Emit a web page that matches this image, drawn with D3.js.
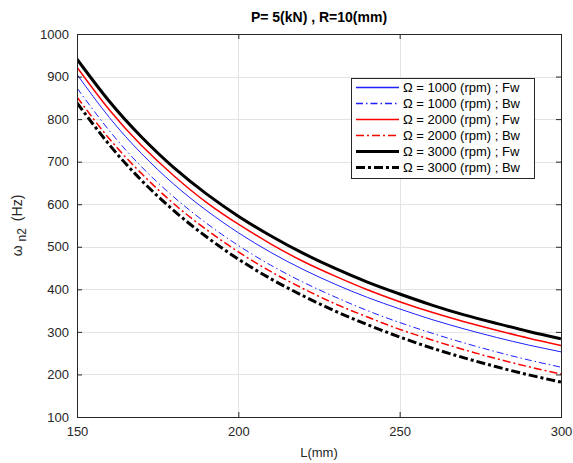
<!DOCTYPE html>
<html>
<head>
<meta charset="utf-8">
<script src="https://cdn.jsdelivr.net/npm/d3@7"></script>
<style>
  html, body { margin: 0; padding: 0; background: #fff; }
  svg { display: block; font-family: "Liberation Sans", Arial, sans-serif; }
</style>
</head>
<body>
<svg id="chart" width="573" height="463"></svg>
<script>
// ---- data ----
const L = [150, 160, 170, 180, 190, 200, 210, 220, 230, 240, 250, 260, 270, 280, 290, 300];
const w1000Fw = [905, 804, 719, 647, 586, 533, 487, 447, 412, 381, 354, 329, 307, 287, 269, 253];
const w1000Bw = [873, 773, 688, 617, 556, 503, 457, 417, 382, 350, 322, 297, 274, 253, 234, 217];
const w2000Fw = [922, 822, 738, 667, 605, 553, 507, 466, 431, 399, 371, 346, 324, 304, 285, 268];
const w2000Bw = [852, 754, 672, 601, 541, 488, 442, 402, 366, 335, 306, 281, 258, 237, 218, 201];
const w3000Fw = [941, 842, 758, 686, 625, 572, 526, 485, 449, 417, 389, 363, 340, 320, 301, 284];
const w3000Bw = [838, 740, 656, 585, 524, 471, 425, 385, 349, 317, 288, 262, 239, 218, 199, 182];
const seriesNames = ["Ω = 1000 (rpm) ; Fw", "Ω = 1000 (rpm) ; Bw", "Ω = 2000 (rpm) ; Fw",
                     "Ω = 2000 (rpm) ; Bw", "Ω = 3000 (rpm) ; Fw", "Ω = 3000 (rpm) ; Bw"];
const xTicks = [150, 200, 250, 300];
const yTicks = [100, 200, 300, 400, 500, 600, 700, 800, 900, 1000];
const titleText = "P= 5(kN) , R=10(mm)";
const xLabel = "L(mm)";

// ---- styles ----
const styles = [
  { color: "#1f1fff", width: 1,   dash: null },
  { color: "#1f1fff", width: 1,   dash: "7,3,1.5,3" },
  { color: "#ff0000", width: 1.5, dash: null },
  { color: "#ff0000", width: 1.5, dash: "8,3,2,3" },
  { color: "#000000", width: 3,   dash: null },
  { color: "#000000", width: 3,   dash: "9,3,3,3" }
];
const seriesData = [w1000Fw, w1000Bw, w2000Fw, w2000Bw, w3000Fw, w3000Bw];

const svg = d3.select("#chart");
const m = { left: 77, right: 561, top: 34, bottom: 417 };
const x = d3.scaleLinear().domain([150, 300]).range([m.left, m.right]);
const y = d3.scaleLinear().domain([100, 1000]).range([m.bottom, m.top]);

svg.append("rect").attr("width", 573).attr("height", 463).attr("fill", "#fff");

// grid
const grid = svg.append("g").attr("stroke", "#e3e3e3").attr("stroke-width", 1);
xTicks.forEach(t => grid.append("line")
  .attr("x1", Math.round(x(t)) + 0.5).attr("x2", Math.round(x(t)) + 0.5)
  .attr("y1", m.top).attr("y2", m.bottom));
yTicks.forEach(t => grid.append("line")
  .attr("x1", m.left).attr("x2", m.right)
  .attr("y1", Math.round(y(t)) + 0.5).attr("y2", Math.round(y(t)) + 0.5));

// clip
svg.append("clipPath").attr("id", "clip").append("rect")
  .attr("x", m.left).attr("y", m.top).attr("width", m.right - m.left).attr("height", m.bottom - m.top);

// lines
const line = d3.line().x((d, i) => x(L[i])).y(d => y(d)).curve(d3.curveNatural);
const lg = svg.append("g").attr("clip-path", "url(#clip)");
seriesData.forEach((s, k) => {
  const st = styles[k];
  lg.append("path").datum(s).attr("d", line)
    .style("fill", "none").style("stroke", st.color).style("stroke-width", st.width)
    .style("stroke-dasharray", st.dash);
});

// axes (MATLAB-style inward ticks)
const fmt = d3.format("d");
const xAxisB = d3.axisBottom(x).tickValues(xTicks).tickFormat(fmt).tickSizeInner(-5).tickSizeOuter(0).tickPadding(10);
const xAxisT = d3.axisTop(x).tickValues(xTicks).tickSizeInner(-5).tickSizeOuter(0).tickFormat("");
const yAxisL = d3.axisLeft(y).tickValues(yTicks).tickFormat(fmt).tickSizeInner(-5).tickSizeOuter(0).tickPadding(8);
const yAxisR = d3.axisRight(y).tickValues(yTicks).tickSizeInner(-5).tickSizeOuter(0).tickFormat("");

function styleAxis(g) {
  g.select(".domain").remove();
  g.selectAll("line").attr("stroke", "#262626");
  g.selectAll("text").attr("fill", "#262626").style("font-size", "13px")
    .style("font-family", "'Liberation Sans', Arial, sans-serif");
}
svg.append("g").attr("transform", `translate(0,${m.bottom})`).call(xAxisB).call(styleAxis);
svg.append("g").attr("transform", `translate(0,${m.top})`).call(xAxisT).call(styleAxis);
svg.append("g").attr("transform", `translate(${m.left},0)`).call(yAxisL).call(styleAxis);
svg.append("g").attr("transform", `translate(${m.right},0)`).call(yAxisR).call(styleAxis);

// frame
svg.append("rect").attr("x", m.left + 0.5).attr("y", m.top + 0.5)
  .attr("width", m.right - m.left).attr("height", m.bottom - m.top)
  .attr("fill", "none").attr("stroke", "#262626").attr("stroke-width", 1);

// title
svg.append("text").attr("x", (m.left + m.right) / 2).attr("y", 22)
  .attr("text-anchor", "middle").style("font-size", "14px").style("font-weight", "bold")
  .attr("fill", "#000").text(titleText);

// x label
svg.append("text").attr("x", (m.left + m.right) / 2).attr("y", 457)
  .attr("text-anchor", "middle").style("font-size", "13px").attr("fill", "#262626").text(xLabel);

// y label
const yl = svg.append("text").attr("transform", `translate(22,${(m.top + m.bottom) / 2}) rotate(-90)`)
  .attr("text-anchor", "middle").style("font-size", "14px").attr("fill", "#262626");
yl.append("tspan").text("ω");
yl.append("tspan").attr("dx", 4).attr("dy", 4).style("font-size", "12px").text("n2");
yl.append("tspan").attr("dx", 3).attr("dy", -4).text(" (Hz)");

// legend
const leg = svg.append("g");
leg.append("rect").attr("x", 351.5).attr("y", 78.5).attr("width", 183).attr("height", 100)
  .attr("fill", "#fff").attr("stroke", "#262626").attr("stroke-width", 1);
const rowY = [87.5, 103.5, 119.5, 135.5, 151.5, 167.5];
seriesNames.forEach((name, k) => {
  const st = styles[k];
  leg.append("line").attr("x1", 356).attr("x2", 399).attr("y1", rowY[k]).attr("y2", rowY[k])
    .style("stroke", st.color).style("stroke-width", st.width === 1 ? 1.3 : st.width)
    .style("stroke-dasharray", st.dash);
  leg.append("text").attr("x", 403).attr("y", rowY[k] + 4.5)
    .style("font-size", "13px").attr("fill", "#000").text(name);
});
</script>
</body>
</html>
